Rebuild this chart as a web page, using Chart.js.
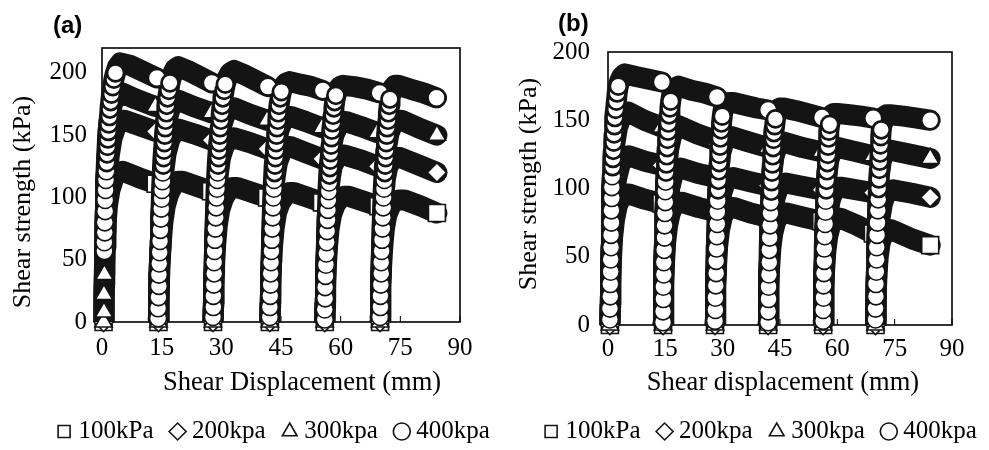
<!DOCTYPE html>
<html lang="en">
<head>
<meta charset="UTF-8">
<title>Shear strength vs shear displacement</title>
<script src="https://cdn.jsdelivr.net/npm/chart.js"></script>
<style>
  body { margin: 0; background: #fff; }
  #wrap { position: relative; width: 989px; height: 450px; overflow: hidden; background: #fff; }
  canvas { position: absolute; top: 0; }
</style>
</head>
<body>
<div id="wrap">
  <canvas id="chartA" width="552" height="454" style="left:0"></canvas>
  <canvas id="chartB" width="526" height="454" style="left:500px"></canvas>
</div>
<script>
// series names and tick values
const seriesNames = ['100kPa', '200kpa', '300kpa', '400kpa'];
const xTicks = [0, 15, 30, 45, 60, 75, 90];
const yTicks = [0, 50, 100, 150, 200];

// panel (a): each series = 6 loading cycles of [displacement mm, shear kPa]
const a100 = [
  [[0.4,0],[0.5,10],[0.5,25],[0.6,42],[0.8,60],[1.0,78],[1.4,94],[2.0,106],[2.9,115],[4.0,120],[5.2,121],[9.2,116],[13.5,111]],
  [[14.2,0],[14.3,12],[14.4,28],[14.6,46],[14.9,64],[15.3,80],[15.9,93],[16.8,103],[17.9,110],[19.1,113],[20.2,113],[23.8,109],[27.4,105]],
  [[27.9,0],[28.0,12],[28.1,28],[28.3,46],[28.6,63],[29.0,78],[29.6,90],[30.5,99],[31.6,105],[32.8,108],[34.0,108],[37.8,104],[41.5,100]],
  [[42.2,0],[42.3,12],[42.4,28],[42.6,45],[42.9,62],[43.3,76],[43.9,88],[44.8,96],[45.9,101],[47.1,104],[48.2,104],[51.8,100],[55.3,96]],
  [[56.0,0],[56.1,12],[56.2,28],[56.4,45],[56.7,61],[57.1,75],[57.7,86],[58.6,94],[59.7,99],[60.9,101],[62.0,101],[65.8,97],[69.5,93]],
  [[69.9,0],[70.0,12],[70.1,28],[70.3,45],[70.6,61],[71.0,75],[71.6,86],[72.5,93],[73.6,97],[74.8,98],[76.0,98],[80.2,93],[84.2,87.5]]
];
const a200 = [
  [[0.4,0],[0.5,12],[0.6,30],[0.7,50],[0.8,72],[1.0,95],[1.3,115],[1.8,133],[2.5,147],[3.5,157],[4.7,162],[5.6,162],[9.2,158],[13.5,153]],
  [[14.2,0],[14.3,15],[14.4,35],[14.6,58],[14.8,80],[15.1,102],[15.5,120],[16.1,135],[17.0,146],[18.1,153],[19.2,155],[23.2,151],[27.5,146]],
  [[27.9,0],[28.0,15],[28.1,35],[28.3,58],[28.5,80],[28.8,101],[29.2,118],[29.8,132],[30.7,141],[31.8,147],[33.0,148],[37.2,144],[41.5,139]],
  [[42.2,0],[42.3,15],[42.4,35],[42.6,58],[42.8,80],[43.1,100],[43.5,116],[44.1,128],[45.0,136],[46.1,140],[47.2,141],[51.2,136],[55.3,131]],
  [[56.0,0],[56.1,15],[56.2,35],[56.4,58],[56.6,80],[56.9,99],[57.3,114],[57.9,125],[58.8,131],[59.9,134],[61.0,134],[65.2,130],[69.3,125]],
  [[69.9,0],[70.0,15],[70.1,35],[70.3,58],[70.5,80],[70.8,99],[71.2,114],[71.8,124],[72.7,130],[73.8,132],[75.0,132],[79.6,126],[84.2,120]]
];
const a300 = [
  [[0.4,0],[0.5,8],[0.5,22],[0.6,38],[0.7,55],[0.8,75],[0.9,95],[1.0,115],[1.2,135],[1.5,153],[2.0,167],[2.8,177],[3.9,183],[5.0,184],[8.5,179],[13.4,173]],
  [[14.2,0],[14.3,15],[14.4,35],[14.6,60],[14.8,85],[15.0,108],[15.3,130],[15.7,148],[16.3,162],[17.2,172],[18.3,177],[19.2,178],[23.0,173],[27.5,168]],
  [[27.9,0],[28.0,15],[28.1,35],[28.3,60],[28.5,85],[28.7,108],[29.0,128],[29.4,145],[30.1,158],[31.0,167],[32.1,171],[33.2,172],[37.0,167],[41.5,162]],
  [[42.2,0],[42.3,15],[42.4,35],[42.6,60],[42.8,85],[43.0,107],[43.3,126],[43.8,142],[44.5,154],[45.5,162],[46.6,165],[47.5,165],[51.2,161],[55.3,156]],
  [[56.0,0],[56.1,15],[56.2,35],[56.4,60],[56.6,85],[56.8,106],[57.1,124],[57.6,139],[58.3,150],[59.3,157],[60.4,161],[61.3,161],[65.0,157],[69.2,152]],
  [[69.9,0],[70.0,15],[70.1,35],[70.3,60],[70.5,85],[70.7,106],[71.0,125],[71.5,140],[72.2,152],[73.1,159],[74.2,162],[75.2,162],[79.5,156],[84.2,150]]
];
const a400 = [
  [[0.6,57],[0.6,64],[0.7,72],[0.7,80],[0.8,89],[0.8,98],[0.9,106],[1.0,114],[1.1,121],[1.2,128],[1.3,135],[1.4,141],[1.5,147],[1.6,153],[1.7,159],[1.9,165],[2.0,171],[2.2,177],[2.4,183],[2.7,189],[3.0,195],[3.4,200],[3.9,205],[4.6,208],[7.2,206],[10.5,201],[13.8,196]],
  [[14.1,3],[14.1,11],[14.2,20],[14.3,29],[14.3,38],[14.4,47],[14.5,56],[14.6,65],[14.7,74],[14.8,83],[14.9,91],[15.0,99],[15.1,106],[15.2,113],[15.3,120],[15.4,126],[15.5,132],[15.6,138],[15.7,144],[15.8,150],[15.9,156],[16.0,162],[16.2,168],[16.3,174],[16.5,180],[16.8,186],[17.1,192],[17.6,198],[18.3,203],[19.2,205],[21.5,202],[24.6,197],[27.6,192]],
  [[27.9,4],[28.0,12],[28.0,21],[28.1,30],[28.2,39],[28.2,48],[28.3,57],[28.4,66],[28.5,75],[28.6,84],[28.7,92],[28.8,100],[28.9,107],[29.0,114],[29.1,120],[29.2,126],[29.3,132],[29.4,138],[29.5,144],[29.6,150],[29.7,156],[29.9,162],[30.0,168],[30.2,174],[30.4,180],[30.7,186],[31.0,191],[31.5,196],[32.2,200],[33.2,202],[35.5,199],[38.6,194],[41.7,189]],
  [[42.2,4],[42.2,12],[42.3,21],[42.4,30],[42.4,39],[42.5,48],[42.6,57],[42.7,66],[42.8,75],[42.9,84],[43.0,92],[43.1,100],[43.2,107],[43.3,114],[43.4,120],[43.5,126],[43.6,132],[43.7,138],[43.8,144],[43.9,150],[44.0,156],[44.2,162],[44.3,168],[44.5,174],[44.8,180],[45.1,185],[45.6,189],[46.3,192],[47.2,193],[49.8,191],[52.7,189],[55.5,186]],
  [[56.0,2],[56.0,10],[56.1,19],[56.1,28],[56.2,37],[56.3,46],[56.4,55],[56.5,64],[56.6,73],[56.7,82],[56.8,90],[56.9,98],[57.0,105],[57.1,112],[57.2,118],[57.3,124],[57.4,130],[57.5,136],[57.6,142],[57.7,148],[57.8,154],[58.0,160],[58.1,166],[58.3,172],[58.5,177],[58.8,182],[59.2,186],[59.8,189],[60.6,190],[63.4,189],[66.6,187],[69.8,184]],
  [[69.9,4],[70.0,12],[70.0,21],[70.1,30],[70.2,39],[70.2,48],[70.3,57],[70.4,66],[70.5,75],[70.6,84],[70.7,92],[70.8,100],[70.9,107],[71.0,114],[71.1,120],[71.2,126],[71.3,132],[71.4,138],[71.5,144],[71.6,150],[71.7,156],[71.9,162],[72.0,168],[72.2,174],[72.4,179],[72.7,184],[73.1,188],[73.7,190],[74.5,190],[77.5,187],[80.8,184],[84.1,180]]
];

// panel (b)
const b100 = [
  [[0.5,0],[0.6,13],[0.7,30],[0.9,48],[1.2,64],[1.7,77],[2.4,87],[3.3,93],[4.4,96],[5.5,96],[9.8,92],[14.0,89]],
  [[14.4,0],[14.5,13],[14.6,29],[14.8,46],[15.1,61],[15.6,73],[16.3,82],[17.2,88],[18.2,90],[19.2,90],[23.8,86],[28.3,83]],
  [[28.0,0],[28.1,13],[28.2,28],[28.4,44],[28.7,58],[29.2,70],[29.9,79],[30.8,84],[31.8,86],[32.9,86],[37.3,82],[41.8,79]],
  [[41.9,0],[42.0,12],[42.1,27],[42.3,42],[42.6,56],[43.1,67],[43.8,75],[44.7,80],[45.7,82],[46.7,82],[51.2,79],[55.8,76]],
  [[56.3,0],[56.4,12],[56.5,26],[56.7,41],[57.0,54],[57.5,65],[58.2,73],[59.1,77],[60.1,78.5],[61.1,78],[65.2,73],[69.3,67]],
  [[70.0,0],[70.1,11],[70.2,24],[70.4,38],[70.7,50],[71.2,60],[71.9,66],[72.8,69],[73.8,70],[74.8,69],[79.6,63],[84.3,58.5]]
];
const b200 = [
  [[0.5,0],[0.6,15],[0.7,35],[0.9,57],[1.2,77],[1.6,94],[2.3,108],[3.2,118],[4.4,123],[5.4,124],[9.7,120],[14.0,117]],
  [[14.4,0],[14.5,15],[14.6,34],[14.8,54],[15.1,72],[15.6,88],[16.2,101],[17.0,110],[18.0,114],[19.0,115],[23.6,111],[28.3,108]],
  [[28.0,0],[28.1,15],[28.2,33],[28.4,52],[28.7,70],[29.2,85],[29.8,97],[30.6,104],[31.6,107.5],[32.7,108],[37.2,105],[41.8,102]],
  [[41.9,0],[42.0,14],[42.1,32],[42.3,51],[42.6,68],[43.1,82],[43.7,93],[44.5,100],[45.5,103.5],[46.5,104],[51.1,101.5],[55.8,99]],
  [[56.3,0],[56.4,14],[56.5,32],[56.7,50],[57.0,67],[57.5,81],[58.1,91],[58.9,97.5],[59.9,100.5],[60.9,101],[65.1,99],[69.3,97]],
  [[70.0,0],[70.1,14],[70.2,32],[70.4,50],[70.7,66],[71.2,79],[71.8,89],[72.6,95.5],[73.6,98.5],[74.6,99],[79.5,96.5],[84.3,93.5]]
];
const b300 = [
  [[0.5,0],[0.6,15],[0.7,35],[0.8,58],[0.9,80],[1.1,100],[1.4,118],[1.8,133],[2.5,145],[3.4,152],[4.5,156],[5.3,156],[9.5,150],[14.0,145]],
  [[14.4,0],[14.5,15],[14.6,35],[14.7,58],[14.9,80],[15.1,100],[15.4,116],[15.9,129],[16.6,138],[17.5,144],[18.4,146],[23.3,140],[28.3,135]],
  [[28.0,0],[28.1,15],[28.2,35],[28.3,58],[28.5,80],[28.7,99],[29.0,114],[29.5,126],[30.2,133],[31.2,137],[32.3,138],[37.0,134],[41.8,130]],
  [[41.9,0],[42.0,15],[42.1,35],[42.2,58],[42.4,80],[42.6,98],[42.9,112],[43.4,123],[44.1,130],[45.0,133],[46.0,134],[50.9,130],[55.8,127]],
  [[56.3,0],[56.4,15],[56.5,35],[56.6,58],[56.8,80],[57.0,97],[57.3,111],[57.8,121],[58.5,127],[59.3,130],[60.2,130],[64.8,127],[69.3,124]],
  [[70.0,0],[70.1,15],[70.2,35],[70.3,58],[70.5,79],[70.7,96],[71.0,110],[71.5,120],[72.2,126],[73.1,128],[74.0,128],[79.2,125],[84.3,122]]
];
const b400 = [
  [[0.5,4],[0.5,12],[0.6,21],[0.6,30],[0.7,39],[0.7,48],[0.8,57],[0.8,66],[0.9,75],[0.9,84],[1.0,93],[1.0,101],[1.1,109],[1.2,116],[1.3,122],[1.4,128],[1.5,134],[1.6,140],[1.7,146],[1.8,152],[2.0,158],[2.2,164],[2.4,170],[2.7,175],[3.1,179],[3.6,182],[4.4,184],[7.3,182],[10.7,180],[14.1,178]],
  [[14.4,2],[14.4,10],[14.5,19],[14.5,28],[14.6,37],[14.6,46],[14.7,55],[14.8,64],[14.8,73],[14.9,82],[15.0,90],[15.0,98],[15.1,105],[15.2,112],[15.3,118],[15.4,124],[15.5,130],[15.6,136],[15.7,142],[15.8,148],[16.0,154],[16.2,159],[16.4,164],[16.7,169],[17.1,172],[17.7,174],[18.5,175],[21.8,172],[25.2,170],[28.5,167]],
  [[28.0,3],[28.1,11],[28.1,20],[28.2,29],[28.3,38],[28.3,47],[28.4,56],[28.5,65],[28.6,74],[28.6,83],[28.7,91],[28.8,99],[28.9,106],[29.0,113],[29.1,119],[29.2,125],[29.3,131],[29.4,137],[29.6,143],[29.7,148],[29.9,153],[30.1,157],[30.5,160],[31.0,162],[31.8,163],[32.8,163],[35.8,161],[38.9,159],[41.9,157.5]],
  [[41.9,2],[41.9,10],[42.0,19],[42.0,28],[42.1,37],[42.2,46],[42.2,55],[42.3,64],[42.4,73],[42.5,82],[42.6,90],[42.7,98],[42.8,105],[42.9,112],[43.0,118],[43.1,124],[43.2,130],[43.3,136],[43.4,141],[43.6,146],[43.8,151],[44.0,155],[44.4,158],[45.0,159],[46.0,159],[49.3,157],[52.7,154.5],[56.0,152]],
  [[56.3,3],[56.3,11],[56.4,20],[56.4,29],[56.5,38],[56.6,47],[56.6,56],[56.7,65],[56.8,74],[56.9,83],[57.0,91],[57.1,99],[57.2,106],[57.3,113],[57.4,119],[57.5,125],[57.6,131],[57.7,137],[57.8,142],[58.0,147],[58.2,151],[58.5,154],[59.0,155],[60.0,155],[63.2,154],[66.3,153],[69.4,151.5]],
  [[70.0,4],[70.0,12],[70.1,21],[70.1,30],[70.2,39],[70.3,48],[70.3,57],[70.4,66],[70.5,75],[70.6,84],[70.7,92],[70.8,100],[70.9,107],[71.0,114],[71.1,120],[71.2,126],[71.3,132],[71.4,138],[71.5,143],[71.7,148],[71.9,151],[72.3,153],[72.9,154],[73.8,154],[77.3,153],[80.8,151.5],[84.3,150]]
];

const SERIF = "'Liberation Serif', 'Times New Roman', serif";
const SANS = "'Liberation Sans', Arial, sans-serif";
const INK = '#141414';
const markerStyles = [
  { style: 'rect', r: 12 },
  { style: 'rectRot', r: 9.5 },
  { style: 'triangle', r: 10 },
  { style: 'circle', r: 8.5 }
];

// band path through every reading, broken between cycles
function bandData(cycles) {
  const out = [];
  cycles.forEach((c, k) => {
    if (k > 0) out.push({ x: null, y: null });
    c.forEach(p => out.push({ x: p[0], y: p[1] }));
  });
  return out;
}

// per reading: 0 = hidden in the solid band, 1 = open marker, 2 = tightly stacked marker
function markerFlags(cycles, top) {
  const flags = [];
  cycles.forEach(c => {
    const peak = Math.max(...c.map(p => p[1]));
    const ip = c.findIndex(p => p[1] === peak);
    c.forEach((p, i) => {
      if (i === c.length - 1) { flags.push(1); return; }
      const rising = i < ip && (top ? p[1] < peak - 7 : p[1] < 0.4 * peak);
      if (!rising) flags.push(0);
      else flags.push(top && p[1] > 0.6 * peak ? 2 : 1);
    });
  });
  return flags;
}

const framePlugin = {
  id: 'frame',
  beforeDatasetsDraw(chart) {
    const { ctx, chartArea: a, scales: { x } } = chart;
    ctx.save();
    ctx.strokeStyle = '#000';
    ctx.lineWidth = 1.6;
    ctx.strokeRect(a.left, a.top, a.right - a.left, a.bottom - a.top);
    ctx.beginPath();
    x.ticks.forEach(t => {
      const px = x.getPixelForValue(t.value);
      ctx.moveTo(px, a.bottom);
      ctx.lineTo(px, a.bottom - 6);
    });
    ctx.lineWidth = 1;
    ctx.stroke();
    ctx.restore();
  }
};

const textPlugin = {
  id: 'panelText',
  afterDraw(chart, args, opts) {
    const ctx = chart.ctx;
    opts.items.forEach(it => {
      ctx.save();
      ctx.translate(it.x, it.y);
      if (it.rot) ctx.rotate(it.rot);
      ctx.font = it.font;
      ctx.fillStyle = '#000';
      ctx.textAlign = it.align || 'center';
      ctx.textBaseline = 'middle';
      ctx.fillText(it.text, 0, 0);
      ctx.restore();
    });
  }
};

function makePanel(id, series, cfg) {
  const markers = series.map((cycles, i) => {
    const flags = markerFlags(cycles, i === 3);
    const ms = markerStyles[i];
    return {
      label: seriesNames[i],
      data: cycles.flat().map(p => ({ x: p[0], y: p[1] })),
      showLine: false,
      pointStyle: ms.style,
      pointRadius: ctx => flags[ctx.dataIndex] ? ms.r : 0,
      pointBorderWidth: ctx => flags[ctx.dataIndex] === 2 ? 2.7 : 1.6,
      pointHoverRadius: 0,
      pointBackgroundColor: '#fff',
      pointBorderColor: INK,
      order: 7 - 2 * i,
      clip: { left: false, right: false, top: false, bottom: 12 }
    };
  });
  const bands = series.map((cycles, i) => ({
    label: '',
    data: bandData(cycles),
    showLine: true,
    spanGaps: false,
    borderColor: INK,
    borderWidth: 21,
    borderJoinStyle: 'round',
    borderCapStyle: 'round',
    tension: 0,
    pointRadius: 0,
    pointHoverRadius: 0,
    order: 8 - 2 * i,
    clip: { left: false, right: false, top: false, bottom: 0 }
  }));

  return new Chart(document.getElementById(id), {
    type: 'scatter',
    data: { datasets: markers.concat(bands) },
    plugins: [framePlugin, textPlugin],
    options: {
      responsive: false,
      animation: false,
      devicePixelRatio: 1,
      layout: { padding: { top: cfg.top, left: 0, right: 0, bottom: 0 } },
      scales: {
        x: {
          type: 'linear', min: xTicks[0], max: xTicks[xTicks.length - 1],
          afterBuildTicks: s => { s.ticks = xTicks.map(v => ({ value: v })); },
          ticks: { font: { family: SERIF, size: 25 }, color: '#000', padding: cfg.xPad, maxRotation: 0, autoSkip: false },
          grid: { display: false, drawTicks: false },
          border: { display: false },
          afterFit: s => { s.height = cfg.xH; }
        },
        y: {
          type: 'linear', position: 'left', min: 0, max: cfg.yMax,
          afterBuildTicks: s => { s.ticks = yTicks.map(v => ({ value: v })); },
          ticks: { font: { family: SERIF, size: 25 }, color: '#000', padding: cfg.yPad },
          grid: { display: false, drawTicks: false },
          border: { display: false },
          afterFit: s => { s.width = cfg.yW; }
        },
        y2: {
          type: 'linear', position: 'right', display: true,
          ticks: { display: false },
          grid: { display: false, drawTicks: false },
          border: { display: false },
          afterFit: s => { s.width = cfg.rightW; }
        }
      },
      plugins: {
        tooltip: { enabled: false },
        legend: {
          position: 'bottom',
          labels: {
            usePointStyle: true,
            boxWidth: 4,
            boxHeight: 12,
            padding: 22,
            color: '#000',
            font: { family: SERIF, size: 25 },
            filter: item => item.datasetIndex < 4,
            sort: (p, q) => p.datasetIndex - q.datasetIndex
          }
        },
        panelText: { items: cfg.texts }
      }
    }
  });
}

makePanel('chartA', [a100, a200, a300, a400], {
  top: 48, yMax: 220, yW: 102, rightW: 92, xH: 75, xPad: 11, yPad: 15,
  texts: [
    { text: '(a)', x: 53, y: 26, align: 'left', font: 'bold 24px ' + SANS },
    { text: 'Shear strength (kPa)', x: 23, y: 202, rot: -Math.PI / 2, font: '26px ' + SERIF },
    { text: 'Shear Displacement (mm)', x: 302, y: 383, font: '26.5px ' + SERIF }
  ]
});

makePanel('chartB', [b100, b200, b300, b400], {
  top: 52, yMax: 200, yW: 108, rightW: 74, xH: 72, xPad: 9, yPad: 18,
  texts: [
    { text: '(b)', x: 58, y: 24, align: 'left', font: 'bold 24px ' + SANS },
    { text: 'Shear strength (kPa)', x: 29, y: 184, rot: -Math.PI / 2, font: '26px ' + SERIF },
    { text: 'Shear displacement (mm)', x: 283, y: 383, font: '26.5px ' + SERIF }
  ]
});
</script>
</body>
</html>
